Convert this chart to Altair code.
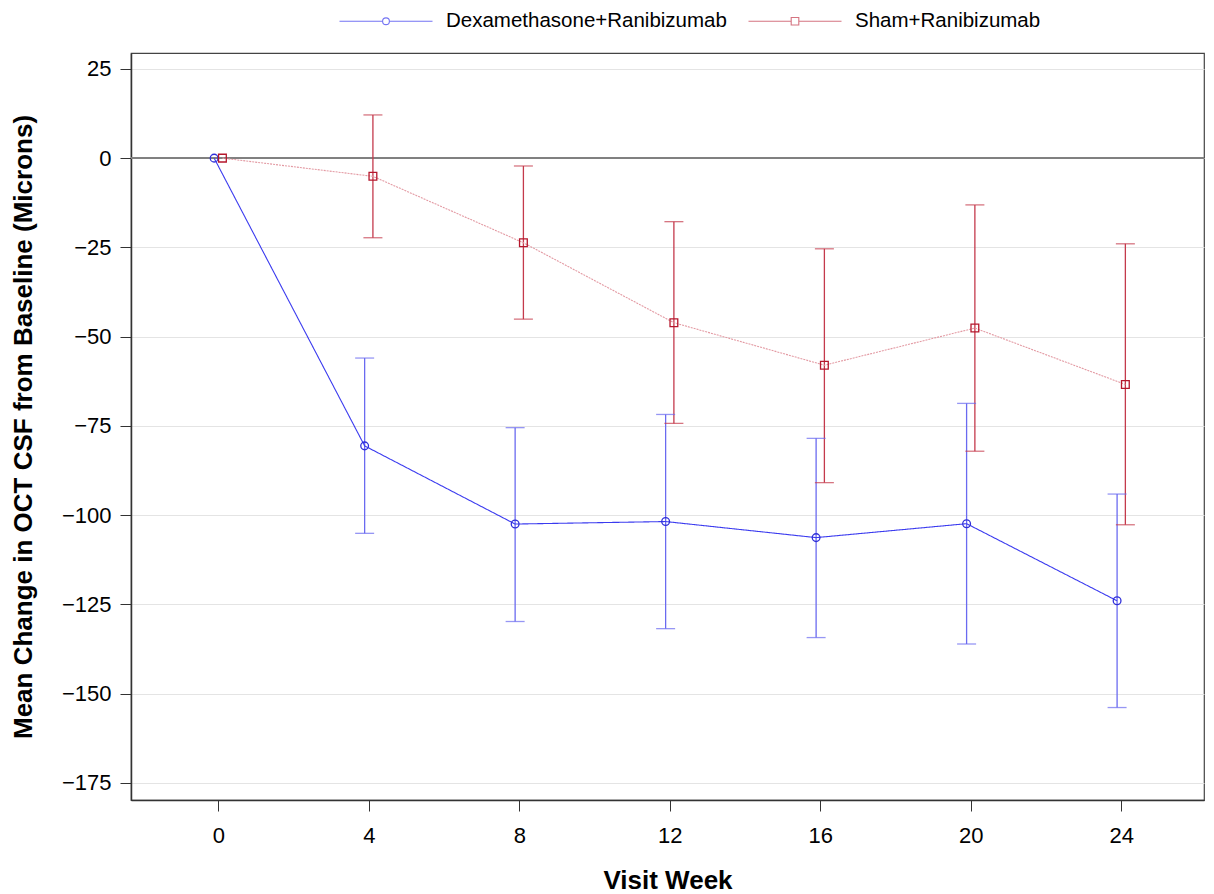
import altair as alt
import pandas as pd

weeks = [0, 4, 8, 12, 16, 20, 24]
series_names = ["Dexamethasone+Ranibizumab", "Sham+Ranibizumab"]
dex_mean = [0.0, -80.6, -102.5, -101.8, -106.3, -102.4, -124.0]
dex_lower = [None, -105.1, -129.8, -131.8, -134.3, -136.1, -153.9]
dex_upper = [None, -56.0, -75.5, -71.8, -78.5, -68.7, -94.1]
sham_mean = [0.0, -5.1, -23.7, -46.1, -58.0, -47.6, -63.4]
sham_lower = [None, -22.3, -45.1, -74.3, -90.9, -82.1, -102.7]
sham_upper = [None, 12.1, -2.2, -17.8, -25.4, -13.1, -24.0]
y_ticks = [-175, -150, -125, -100, -75, -50, -25, 0, 25]
x_ticks = [0, 4, 8, 12, 16, 20, 24]

rows = []
for name, m, lo, up in [(series_names[0], dex_mean, dex_lower, dex_upper),
                        (series_names[1], sham_mean, sham_lower, sham_upper)]:
    for w, mv, l, u in zip(weeks, m, lo, up):
        rows.append({"series": name, "week": w, "mean": mv, "lower": l, "upper": u})
df = pd.DataFrame(rows)

FONT = "Liberation Sans"
dom = series_names
line_colors = ["#3b3bef", "#e39aa3"]
err_colors = ["#6a6af0", "#c43a4c"]
mark_colors = ["#2f2fd8", "#b5172c"]

base = alt.Chart(df).transform_calculate(
    xpos="datum.week + (datum.series == '" + series_names[0] + "' ? -0.11 : 0.11)"
)

xenc = alt.X("xpos:Q",
             scale=alt.Scale(domain=[-2.32, 26.2], nice=False, zero=False),
             axis=alt.Axis(values=x_ticks, title="Visit Week", grid=False,
                           tickSize=11, labelPadding=14, titlePadding=21,
                           format="d"))
yscale = alt.Scale(domain=[-179.8, 29.45], nice=False, zero=False)
yenc = alt.Y("mean:Q", scale=yscale,
             axis=alt.Axis(values=y_ticks, title="Mean Change in OCT CSF from Baseline (Microns)",
                           grid=True, gridColor="#e4e4e4", tickSize=11, labelPadding=9,
                           titlePadding=25))

zero = alt.Chart(df).mark_rule(color="#808080", strokeWidth=1).encode(y=alt.datum(0))

valid = base.transform_filter("isValid(datum.lower)")
err_color = alt.Color("series:N", scale=alt.Scale(domain=dom, range=err_colors), legend=None)
errs = valid.mark_rule(strokeWidth=1.3).encode(
    x=xenc, y=alt.Y("lower:Q", scale=yscale), y2="upper:Q", color=err_color)
caps = valid.transform_fold(["lower", "upper"], as_=["end", "val"]).mark_tick(
    orient="horizontal", size=19, thickness=1.3).encode(
    x="xpos:Q", y=alt.Y("val:Q", scale=yscale), color=err_color)

lines = base.mark_line(strokeWidth=1.1).encode(
    x="xpos:Q", y=yenc,
    color=alt.Color("series:N", scale=alt.Scale(domain=dom, range=line_colors), legend=None),
    strokeDash=alt.StrokeDash("series:N", scale=alt.Scale(domain=dom, range=[[1, 0], [2, 1]]), legend=None),
)

pts = base.mark_point(filled=False, size=60, strokeWidth=1.3, opacity=1).encode(
    x="xpos:Q", y="mean:Q",
    color=alt.Color("series:N", scale=alt.Scale(domain=dom, range=mark_colors), legend=None),
    shape=alt.Shape("series:N", scale=alt.Scale(domain=dom, range=["circle", "square"]), legend=None),
)

# legend symbols: size 400 -> path unit = 10px; line spans 93px, marker in the middle
leg = alt.Legend(orient="none", legendX=244, legendY=-43, direction="horizontal", title=None,
                 labelFont=FONT, labelFontSize=20.5, labelColor="#000", labelOffset=49,
                 labelLimit=0, columnPadding=19, symbolSize=400, symbolStrokeWidth=1.1,
                 padding=0)
circle_path = "M-4.65,0H-0.34M0.34,0H4.65M-0.34,0A0.34,0.34 0 1,0 0.34,0A0.34,0.34 0 1,0 -0.34,0"
square_path = "M-4.65,0H-0.38M0.38,0H4.65M-0.38,-0.38H0.38V0.38H-0.38Z"
legend_layer = base.transform_filter("false").mark_point(filled=False, size=400, strokeWidth=1.1).encode(
    color=alt.Color("series:N", scale=alt.Scale(domain=dom, range=["#3b3bef", "#c43a4c"]), legend=leg),
    shape=alt.Shape("series:N", scale=alt.Scale(domain=dom, range=[circle_path, square_path]), legend=leg),
)

chart = alt.layer(zero, errs, caps, lines, pts, legend_layer).resolve_scale(
    color="independent", shape="independent", strokeDash="independent"
).properties(
    width=1073, height=747, padding={"left": 2, "top": 2, "right": 0, "bottom": 0}
).configure_axis(
    labelFont=FONT, labelFontSize=22, labelColor="#000",
    titleFont=FONT, titleFontSize=26, titleFontWeight="bold", titleColor="#000",
    tickColor="#333", domainColor="#333", domainWidth=1.5,
).configure_view(stroke="#444", strokeWidth=1.2)

chart.save("out.html", embed_options={"renderer": "svg", "actions": False})
